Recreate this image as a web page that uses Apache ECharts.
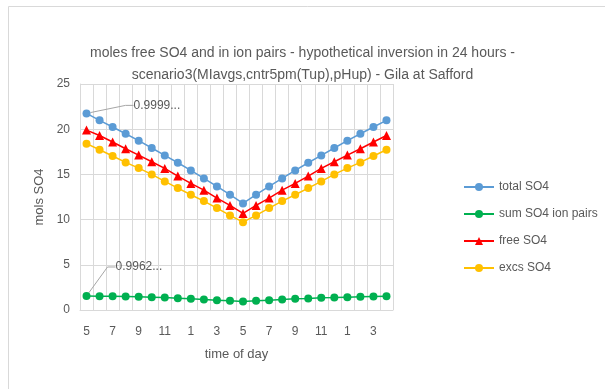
<!DOCTYPE html>
<html>
<head>
<meta charset="utf-8">
<script src="https://cdn.jsdelivr.net/npm/echarts@6/dist/echarts.min.js"></script>
<style>
  html, body { margin: 0; padding: 0; background: #fff; }
  #chart { width: 605px; height: 389px; }
</style>
</head>
<body>
<div id="chart"></div>
<script>
// time of day (hour labels, 5 am through 4 am next day)
var hours = ['5', '6', '7', '8', '9', '10', '11', '12', '1', '2', '3', '4',
             '5', '6', '7', '8', '9', '10', '11', '12', '1', '2', '3', '4'];
// mols SO4
var totalSO4 = [21.75, 20.98, 20.24, 19.50, 18.73, 17.92, 17.10, 16.29, 15.44, 14.56, 13.67, 12.75,
                11.79, 12.75, 13.67, 14.56, 15.44, 16.29, 17.10, 17.92, 18.73, 19.50, 20.24, 20.98];
var ionPairs = [1.55, 1.53, 1.52, 1.50, 1.46, 1.42, 1.38, 1.31, 1.24, 1.16, 1.09, 1.02,
                0.94, 1.02, 1.09, 1.16, 1.24, 1.27, 1.35, 1.38, 1.42, 1.46, 1.50, 1.53];
var freeSO4 = [19.90, 19.30, 18.58, 17.84, 17.14, 16.40, 15.66, 14.82, 14.00, 13.26, 12.38, 11.57,
               10.68, 11.57, 12.38, 13.26, 14.00, 14.82, 15.66, 16.40, 17.14, 17.84, 18.58, 19.30];
var excsSO4 = [18.40, 17.73, 17.03, 16.33, 15.70, 15.00, 14.22, 13.49, 12.75, 12.05, 11.27, 10.46,
               9.72, 10.46, 11.27, 12.05, 12.75, 13.49, 14.22, 15.00, 15.70, 16.33, 17.03, 17.73];
var yTicks = [0, 5, 10, 15, 20, 25];
var firstLabels = ['0.9999...', '0.9962...'];

var FONT = '"Liberation Sans", sans-serif';
var GREY = '#595959';

// 第一个点上的数据标签（带引导线）
function withFirstLabel(vals, text) {
  return vals.map(function (v, i) {
    if (i !== 0) return v;
    return {
      value: v,
      label: {
        show: true, position: 'right', distance: 5, formatter: text,
        color: GREY, fontSize: 12, fontFamily: FONT
      }
    };
  });
}

function lineSeries(name, data, color, symbol, size) {
  return {
    name: name, type: 'line', data: data,
    symbol: symbol, symbolSize: size, showAllSymbol: true,
    lineStyle: { color: color, width: 1.5 },
    itemStyle: { color: color },
    emphasis: { disabled: true },
    animation: false
  };
}

var chart = echarts.init(document.getElementById('chart'));

var sTotal = lineSeries('total SO4', withFirstLabel(totalSO4, firstLabels[0]), '#5B9BD5', 'circle', 8);
sTotal.labelLayout = { dx: 38, dy: -8 };
sTotal.labelLine = { show: true, length2: 8, lineStyle: { color: '#a6a6a6', width: 1 } };

var sPairs = lineSeries('sum SO4 ion pairs', withFirstLabel(ionPairs, firstLabels[1]), '#00B050', 'circle', 8);
sPairs.labelLayout = { dx: 20, dy: -29 };
sPairs.labelLine = { show: true, length2: 8, lineStyle: { color: '#a6a6a6', width: 1 } };

var option = {
  backgroundColor: '#fff',
  title: {
    text: 'moles free SO4 and in ion pairs - hypothetical inversion in 24 hours -\nscenario3(MIavgs,cntr5pm(Tup),pHup) - Gila at Safford',
    left: 'center', top: 37,
    textStyle: { color: GREY, fontSize: 14, fontWeight: 'normal', fontFamily: FONT, lineHeight: 22 }
  },
  legend: {
    orient: 'vertical', left: 458, top: 176,
    itemWidth: 30, itemHeight: 10, itemGap: 15,
    textStyle: { color: GREY, fontSize: 12, fontFamily: FONT },
    data: ['total SO4', 'sum SO4 ion pairs', 'free SO4', 'excs SO4']
  },
  graphic: [{
    type: 'rect', left: 6, top: 4, silent: true,
    shape: { width: 700, height: 500 },
    style: { fill: 'none', stroke: '#d9d9d9', lineWidth: 1 }
  }],
  grid: { left: 80, right: 212, top: 84, bottom: 79 },
  xAxis: {
    type: 'category', data: hours, boundaryGap: true,
    name: 'time of day', nameLocation: 'middle', nameGap: 38,
    nameTextStyle: { color: GREY, fontSize: 13, fontFamily: FONT },
    axisLine: { lineStyle: { color: '#d9d9d9' } },
    axisTick: { show: false },
    axisLabel: { interval: 1, color: GREY, fontSize: 12, fontFamily: FONT, margin: 16 },
    splitLine: { show: true, interval: 0, lineStyle: { color: '#d9d9d9' } }
  },
  yAxis: {
    type: 'value', min: yTicks[0], max: yTicks[yTicks.length - 1], interval: 5,
    name: 'mols SO4', nameLocation: 'middle', nameGap: 30,
    nameTextStyle: { color: GREY, fontSize: 13, fontFamily: FONT },
    axisLine: { show: true, lineStyle: { color: '#d9d9d9' } },
    axisLabel: { color: GREY, fontSize: 12, fontFamily: FONT, margin: 10 },
    splitLine: { lineStyle: { color: '#d9d9d9' } }
  },
  series: [
    sTotal,
    sPairs,
    lineSeries('free SO4', freeSO4, '#FF0000', 'triangle', 9),
    lineSeries('excs SO4', excsSO4, '#FFC000', 'circle', 8)
  ]
};
chart.setOption(option);
</script>
</body>
</html>
